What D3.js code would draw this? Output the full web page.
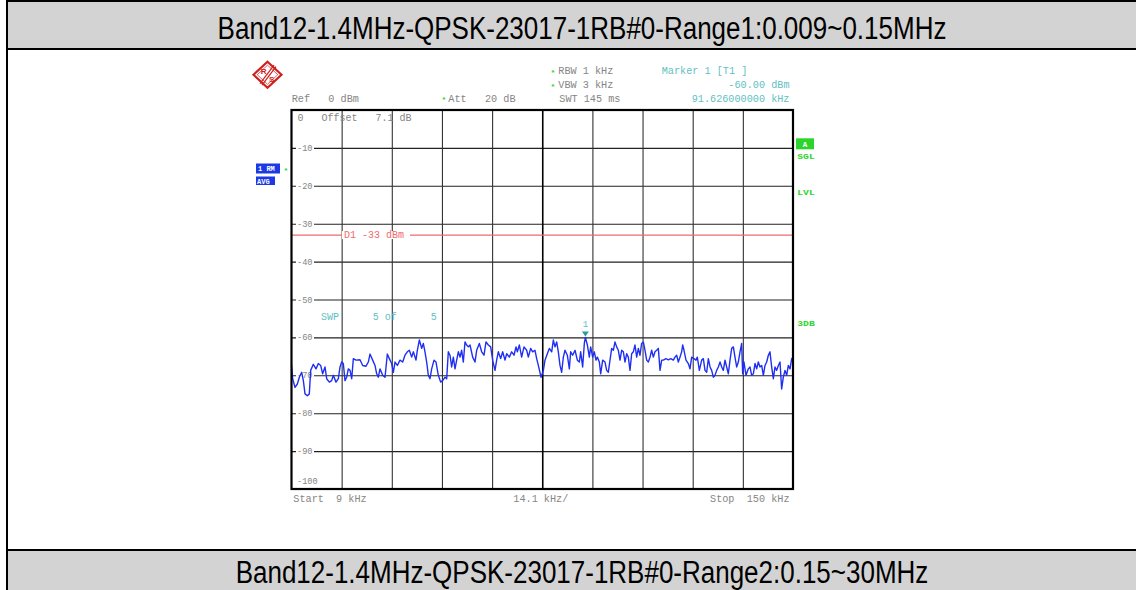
<!DOCTYPE html>
<html>
<head>
<meta charset="utf-8">
<script src="https://cdn.jsdelivr.net/npm/d3@7"></script>
<style>
  html, body { margin: 0; padding: 0; background: #fff; overflow: hidden; }
  svg { display: block; }
  text { white-space: pre; }
</style>
</head>
<body>
<svg id="page" width="1136" height="590" xml:space="preserve"></svg>
<script>
// ---- report section titles ----
const sectionTitles = [
  "Band12-1.4MHz-QPSK-23017-1RB#0-Range1:0.009~0.15MHz",
  "Band12-1.4MHz-QPSK-23017-1RB#0-Range2:0.15~30MHz"
];

// ---- analyzer settings ----
const freqSpan = [9, 150];          // kHz, start / stop
const levelSpan = [0, -100];        // dBm, ref level / bottom
const levelTicks = [-10, -20, -30, -40, -50, -60, -70, -80, -90];
const levelTickLabels = ["-10", "-20", "-30", "-40", "-50", "-60", "-70", "-80", "-90"];
const freqDivisions = 10;
const displayLineLevel = -33;       // D1
const markerFreq = 91.626;          // kHz
const markerLevel = -60.00;         // dBm

// ---- measured trace (1 RM, AVG) ----
const traceFreq = [
  9.0, 9.33, 9.98, 10.64, 11.20, 11.86, 12.33, 12.80, 13.45, 14.01,
  14.39, 15.14, 15.89, 16.54, 17.20, 17.76, 18.42, 18.89, 19.64, 20.29,
  20.76, 21.51, 22.17, 22.64, 23.10, 23.57, 24.04, 24.51, 24.98, 25.45,
  25.92, 26.39, 27.14, 28.26, 29.01, 29.95, 30.60, 31.07, 31.82, 32.48,
  32.95, 33.41, 33.88, 34.63, 35.29, 35.94, 36.51, 37.16, 37.63, 38.10,
  38.76, 39.51, 40.26, 40.91, 41.57, 42.13, 42.79, 43.26, 44.00, 44.38,
  44.94, 45.60, 46.06, 46.53, 47.00, 47.47, 47.94, 48.41, 49.07, 49.63,
  50.28, 50.94, 51.50, 52.16, 52.63, 53.09, 53.56, 54.03, 54.50, 54.97,
  55.44, 55.91, 56.38, 56.84, 57.31, 57.78, 58.25, 58.72, 59.19, 59.94,
  60.59, 61.06, 61.81, 62.47, 63.12, 63.69, 64.34, 65.00, 65.56, 66.22,
  66.68, 67.15, 67.81, 68.37, 69.03, 69.50, 70.25, 70.90, 71.56, 72.12,
  72.50, 73.06, 73.71, 74.37, 75.12, 75.59, 76.24, 76.81, 77.46, 77.93,
  78.40, 79.15, 79.81, 80.27, 80.93, 81.49, 82.15, 82.62, 83.09, 83.55,
  84.02, 84.49, 84.96, 85.43, 85.90, 86.55, 87.12, 87.49, 88.05, 88.71,
  89.37, 89.93, 90.30, 90.86, 91.33, 91.626, 92.18, 92.74, 93.11, 93.68,
  94.14, 94.61, 94.99, 95.55, 95.93, 96.49, 97.14, 97.61, 98.08, 98.55,
  99.02, 99.49, 99.95, 100.42, 100.89, 101.36, 101.83, 102.30, 102.77, 103.24,
  103.70, 104.17, 104.64, 105.11, 105.58, 106.05, 106.52, 106.98, 107.45, 107.92,
  108.39, 108.86, 109.33, 109.80, 110.26, 110.73, 111.20, 111.67, 112.14, 112.61,
  113.08, 113.54, 114.29, 114.95, 115.61, 116.36, 116.82, 117.29, 117.76, 118.23,
  118.70, 118.98, 119.35, 119.92, 120.57, 121.04, 121.51, 122.17, 122.73, 123.10,
  123.67, 124.32, 124.79, 125.26, 125.73, 126.20, 126.67, 127.13, 127.60, 128.07,
  128.54, 129.01, 129.48, 129.95, 130.41, 130.88, 131.35, 131.82, 132.29, 132.76,
  133.23, 133.69, 134.16, 134.63, 135.10, 135.57, 135.85, 136.22, 136.79, 137.44,
  137.91, 138.38, 138.85, 139.32, 139.79, 140.25, 140.72, 141.19, 141.66, 142.13,
  142.60, 143.07, 143.53, 144.00, 144.47, 144.94, 145.41, 145.88, 146.35, 146.81,
  147.28, 147.75, 148.22, 148.69, 149.16, 149.63, 150.0
];
const traceLevel = [
  -67.4, -70.9, -73.2, -72.3, -70.5, -69.2, -71.4, -74.9, -75.4, -74.9,
  -68.7, -67.1, -68.3, -66.9, -67.4, -69.6, -67.8, -70.9, -71.8, -71.4,
  -70.0, -71.8, -70.9, -67.8, -66.5, -66.9, -71.4, -70.5, -68.3, -68.7,
  -70.9, -65.6, -66.0, -65.9, -67.4, -67.6, -66.5, -64.4, -66.0, -67.4,
  -69.6, -70.5, -68.3, -70.0, -70.5, -64.4, -65.6, -66.9, -69.2, -66.5,
  -67.4, -66.0, -66.5, -64.7, -63.8, -63.4, -65.2, -63.8, -66.0, -63.4,
  -60.7, -62.9, -61.6, -63.8, -66.5, -70.0, -70.9, -68.3, -66.0, -66.5,
  -70.0, -71.8, -71.4, -70.5, -70.9, -63.8, -64.7, -67.8, -65.2, -68.3,
  -66.0, -63.8, -65.2, -63.4, -66.5, -61.2, -62.0, -62.5, -62.0, -65.2,
  -66.5, -63.4, -61.6, -63.8, -64.7, -61.2, -62.0, -62.5, -66.0, -68.7,
  -66.0, -63.8, -65.6, -63.8, -66.0, -64.3, -65.2, -63.8, -64.7, -62.5,
  -63.8, -62.0, -65.2, -62.5, -63.4, -65.2, -62.9, -63.8, -63.4, -65.6,
  -67.4, -70.5, -68.7, -66.0, -64.3, -62.9, -63.8, -60.7, -62.5, -61.2,
  -63.8, -67.4, -69.2, -65.2, -63.4, -64.7, -68.3, -63.8, -64.7, -63.4,
  -66.0, -66.5, -63.8, -67.8, -61.6, -60.0, -62.0, -65.2, -62.5, -65.2,
  -63.8, -66.0, -65.2, -66.5, -69.6, -66.0, -66.5, -68.7, -69.2, -66.0,
  -62.9, -63.4, -61.2, -62.5, -63.4, -66.0, -63.4, -63.8, -66.5, -64.3,
  -65.2, -68.7, -64.3, -63.8, -62.0, -65.2, -62.9, -64.7, -61.6, -61.2,
  -63.4, -66.0, -66.5, -65.2, -63.4, -65.2, -63.8, -63.4, -62.9, -68.7,
  -66.0, -66.0, -65.6, -65.9, -65.6, -66.0, -65.2, -64.7, -66.5, -65.2,
  -63.8, -62.0, -63.4, -66.0, -66.9, -68.3, -65.2, -65.6, -66.0, -65.2,
  -68.7, -66.0, -65.6, -68.7, -69.2, -65.6, -67.8, -68.7, -70.5, -70.0,
  -68.7, -67.8, -66.5, -67.8, -68.7, -66.0, -67.8, -69.6, -66.0, -62.9,
  -62.5, -65.2, -67.8, -66.5, -63.8, -61.6, -69.6, -66.5, -70.0, -68.3,
  -67.8, -70.0, -69.6, -66.9, -68.3, -66.5, -67.8, -67.4, -70.0, -67.4,
  -66.5, -64.7, -63.8, -67.8, -70.9, -67.8, -68.7, -67.4, -66.5, -73.6,
  -70.5, -68.7, -70.0, -67.4, -68.3, -65.6, -65.2
];

// ---- colours / fonts ----
const MONO = "'Liberation Mono', 'DejaVu Sans Mono', monospace";
const SANS = "'Liberation Sans', Arial, sans-serif";
const GREY = "#858585";
const TEAL = "#62bfbf";
const GREEN = "#2bd52b";
const BLUE = "#1b3ae6";
const RED = "#ef6a6a";

const svg = d3.select("#page");

// ---- report table frame ----
const table = svg.append("g");
table.append("rect").attr("x", 7).attr("y", 1).attr("width", 1160).attr("height", 48)
  .attr("fill", "#d3d3d3");
table.append("rect").attr("x", 7).attr("y", 550).attr("width", 1160).attr("height", 60)
  .attr("fill", "#d3d3d3");
[[7, 1, 1200, 1], [7, 49, 1200, 49], [7, 550, 1200, 550]].forEach(([x1, y1, x2, y2]) =>
  table.append("line").attr("x1", x1).attr("y1", y1).attr("x2", x2).attr("y2", y2)
    .attr("stroke", "#000").attr("stroke-width", 2));
table.append("line").attr("x1", 7).attr("y1", 0).attr("x2", 7).attr("y2", 590)
  .attr("stroke", "#000").attr("stroke-width", 2);

// titles: tall, narrow sans face
table.selectAll("g.title").data(sectionTitles).join("g")
  .attr("class", "title")
  .attr("transform", (d, i) => `translate(582,${i === 0 ? 39 : 583}) scale(1,1.2)`)
  .append("text")
  .attr("text-anchor", "middle")
  .attr("font-family", SANS)
  .attr("font-size", 26)
  .attr("fill", "#000")
  .text(d => d);

// ---- analyzer screen ----
const plot = { left: 291.5, right: 793, top: 110, bottom: 489 };
const x = d3.scaleLinear().domain(freqSpan).range([plot.left, plot.right]);
const y = d3.scaleLinear().domain(levelSpan).range([plot.top, plot.bottom]);
const W = plot.right - plot.left, H = plot.bottom - plot.top;

const scr = svg.append("g");

// grid: horizontal level lines
const divStep = (freqSpan[1] - freqSpan[0]) / freqDivisions;
const freqGrid = d3.range(1, freqDivisions).map(i => freqSpan[0] + i * divStep);

scr.append("g")
  .attr("transform", `translate(${plot.left},0)`)
  .call(d3.axisLeft(y).tickValues(levelTicks).tickSize(-W).tickFormat(""))
  .call(g => g.select(".domain").remove())
  .call(g => g.selectAll(".tick line").attr("stroke", "#222").attr("stroke-width", 1.1));

// grid: vertical frequency divisions
scr.append("g")
  .attr("transform", `translate(0,${plot.bottom})`)
  .call(d3.axisBottom(x).tickValues(freqGrid).tickSize(-H).tickFormat(""))
  .call(g => g.select(".domain").remove())
  .call(g => g.selectAll(".tick line")
    .attr("stroke", (d, i) => i === 4 ? "#000" : "#333")
    .attr("stroke-width", (d, i) => i === 4 ? 1.6 : 1.1));

// level labels with blanked background
const lbl = scr.append("g");
levelTicks.forEach((v, i) => {
  lbl.append("rect").attr("x", 296).attr("y", y(v) - 4).attr("width", 18).attr("height", 8)
    .attr("fill", "#fff");
  lbl.append("text").attr("x", 297).attr("y", y(v) + 3)
    .attr("font-family", MONO).attr("font-size", 8.6).attr("fill", GREY)
    .text(levelTickLabels[i]);
});
lbl.append("text").attr("x", 297).attr("y", 484)
  .attr("font-family", MONO).attr("font-size", 8.6).attr("fill", GREY).text("-100");
lbl.append("text").attr("x", 297.5).attr("y", 121)
  .attr("font-family", MONO).attr("font-size", 10).attr("fill", GREY)
  .text("0   Offset   7.1 dB");

// display line D1
scr.append("line")
  .attr("x1", plot.left).attr("x2", plot.right)
  .attr("y1", y(displayLineLevel)).attr("y2", y(displayLineLevel))
  .attr("stroke", RED).attr("stroke-width", 1.2);
scr.append("rect").attr("x", 342).attr("y", y(displayLineLevel) - 4)
  .attr("width", 68).attr("height", 8).attr("fill", "#fff");
scr.append("text").attr("x", 344).attr("y", y(displayLineLevel) + 3)
  .attr("font-family", MONO).attr("font-size", 10).attr("fill", RED)
  .text(`D1 ${displayLineLevel} dBm`);

// sweep counter
[["SWP", 321], ["5 of", 372.7], ["5", 430.7]].forEach(([t, px]) =>
  scr.append("text").attr("x", px).attr("y", 320)
    .attr("font-family", MONO).attr("font-size", 10).attr("fill", TEAL).text(t));

// trace
const points = traceFreq.map((f, i) => [f, traceLevel[i]]);
scr.append("path")
  .datum(points)
  .attr("d", d3.line().x(d => x(d[0])).y(d => y(d[1])))
  .attr("fill", "none")
  .attr("stroke", "#1f2ff2")
  .attr("stroke-width", 1.4)
  .attr("stroke-linejoin", "round");

// marker 1
const mx = x(markerFreq), my = y(markerLevel);
scr.append("path")
  .attr("d", `M${mx - 3.5},${my - 6}L${mx + 3.5},${my - 6}L${mx},${my - 1}Z`)
  .attr("fill", "#2a9c9c");
scr.append("text").attr("x", mx).attr("y", my - 10).attr("text-anchor", "middle")
  .attr("font-family", MONO).attr("font-size", 9).attr("fill", TEAL).text("1");

// screen frame
scr.append("rect")
  .attr("x", plot.left).attr("y", plot.top).attr("width", W).attr("height", H)
  .attr("fill", "none").attr("stroke", "#000").attr("stroke-width", 2.2);

// ---- settings read-out ----
const info = svg.append("g").attr("font-family", MONO).attr("font-size", 10.2);
const star = (px, py) => info.append("text").attr("x", px).attr("y", py)
  .attr("font-size", 8).attr("font-weight", "bold").attr("fill", GREEN).text("*");

info.append("text").attr("x", 291.7).attr("y", 102).attr("fill", GREY).text("Ref   0 dBm");
star(441.5, 102);
info.append("text").attr("x", 448.3).attr("y", 102).attr("fill", GREY).text("Att   20 dB");
star(550.5, 75);
info.append("text").attr("x", 558.3).attr("y", 74).attr("fill", GREY).text("RBW 1 kHz");
star(550.5, 89);
info.append("text").attr("x", 558.3).attr("y", 88).attr("fill", GREY).text("VBW 3 kHz");
info.append("text").attr("x", 559.3).attr("y", 102).attr("fill", GREY).text("SWT 145 ms");

info.append("text").attr("x", 661.7).attr("y", 74).attr("fill", TEAL).text("Marker 1 [T1 ]");
info.append("text").attr("x", 789.5).attr("y", 88).attr("text-anchor", "end").attr("fill", TEAL)
  .text(`${markerLevel.toFixed(2)} dBm`);
info.append("text").attr("x", 789.5).attr("y", 102).attr("text-anchor", "end").attr("fill", TEAL)
  .text(`${markerFreq.toFixed(9)} kHz`);

info.append("text").attr("x", 293.3).attr("y", 502).attr("fill", GREY)
  .text(`Start  ${freqSpan[0]} kHz`);
info.append("text").attr("x", 513.3).attr("y", 502).attr("fill", GREY)
  .text(`${divStep.toFixed(1)} kHz/`);
info.append("text").attr("x", 789.5).attr("y", 502).attr("text-anchor", "end").attr("fill", GREY)
  .text(`Stop  ${freqSpan[1]} kHz`);

// trace info boxes (left)
const side = svg.append("g").attr("font-family", MONO).attr("font-weight", "bold");
side.append("rect").attr("x", 256).attr("y", 163.5).attr("width", 24).attr("height", 10).attr("fill", BLUE);
side.append("text").attr("x", 258).attr("y", 171).attr("font-size", 7).attr("fill", "#fff").text("1 RM");
side.append("rect").attr("x", 256).attr("y", 176.5).attr("width", 19).attr("height", 8.5).attr("fill", BLUE);
side.append("text").attr("x", 257).attr("y", 183.5).attr("font-size", 7).attr("fill", "#fff").text("AVG");
star(283.5, 173);

// status flags (right)
side.append("rect").attr("x", 796).attr("y", 138.3).attr("width", 18).attr("height", 11).attr("fill", GREEN);
side.append("text").attr("x", 805).attr("y", 146.5).attr("text-anchor", "middle")
  .attr("font-size", 7.5).attr("fill", "#fff").text("A");
[["SGL", 159], ["LVL", 195], ["3DB", 326]].forEach(([t, py]) =>
  side.append("text").attr("x", 797.3).attr("y", py).attr("font-size", 7.5)
    .attr("fill", GREEN).attr("textLength", 17.5).attr("lengthAdjust", "spacingAndGlyphs").text(t));

// ---- maker logo ----
const logo = svg.append("g").attr("transform", "translate(267.5,74.7)");
logo.append("path").attr("d", "M0,-13L14,0L0,13L-14,0Z")
  .attr("fill", "#fff").attr("stroke", "#cf2020").attr("stroke-width", 2.2);
logo.append("path").attr("d", "M0,-9.5L10.3,0L0,9.5L-10.3,0Z")
  .attr("fill", "none").attr("stroke", "#cf2020").attr("stroke-width", 0.7);
logo.append("line").attr("x1", 6.5).attr("y1", -9.5).attr("x2", -7.5).attr("y2", 9)
  .attr("stroke", "#cf2020").attr("stroke-width", 1.2);
logo.append("line").attr("x1", 8.5).attr("y1", -8).attr("x2", -5.5).attr("y2", 10.5)
  .attr("stroke", "#cf2020").attr("stroke-width", 1.2);
logo.append("text").attr("x", -3.8).attr("y", -0.5).attr("text-anchor", "middle")
  .attr("font-family", SANS).attr("font-weight", "bold").attr("font-size", 8).attr("fill", "#cf2020").text("R");
logo.append("text").attr("x", 4.2).attr("y", 7.5).attr("text-anchor", "middle")
  .attr("font-family", SANS).attr("font-weight", "bold").attr("font-size", 8).attr("fill", "#cf2020").text("S");
</script>
</body>
</html>
